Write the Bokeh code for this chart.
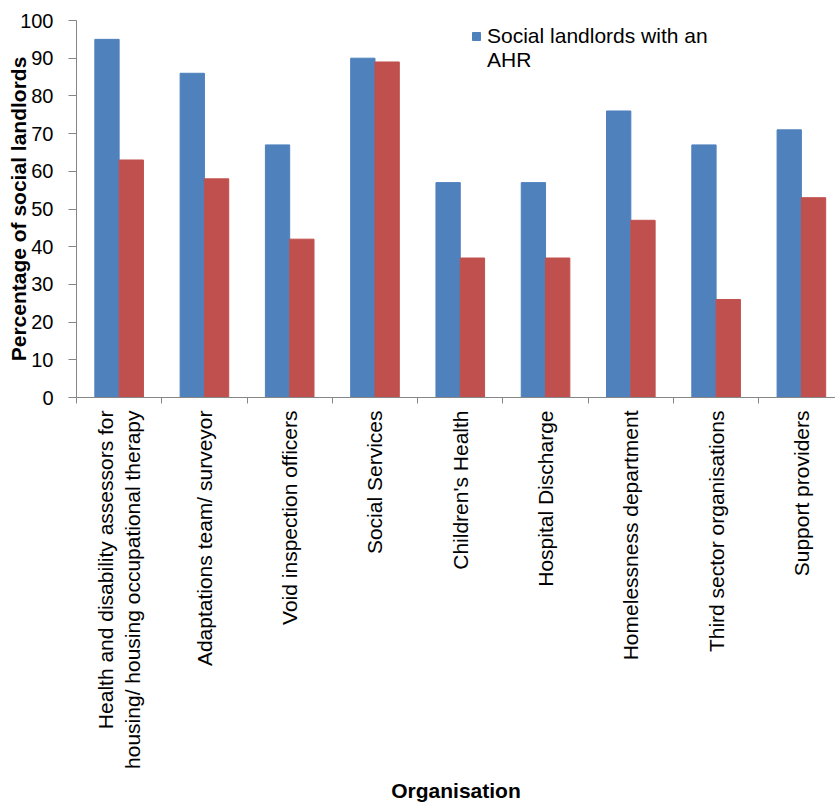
import math
from bokeh.plotting import figure
from bokeh.models import (Range1d, FixedTicker, LinearAxis, ColumnDataSource,
                          Legend, LegendItem)
from bokeh.transform import dodge
from bokeh.embed import file_html
from bokeh.resources import INLINE

categories = [
    "Health and disability assessors for\nhousing/ housing occupational therapy",
    "Adaptations team/ surveyor",
    "Void inspection officers",
    "Social Services",
    "Children's Health",
    "Hospital Discharge",
    "Homelessness department",
    "Third sector organisations",
    "Support providers",
]
with_ahr = [95, 86, 67, 90, 57, 57, 76, 67, 71]
without_ahr = [63, 58, 42, 89, 37, 37, 47, 26, 53]
y_ticks = [0, 10, 20, 30, 40, 50, 60, 70, 80, 90, 100]
legend_lines = ["Social landlords with an", "AHR"]

FONT = "Liberation Sans"
BLUE = "#4F81BD"
RED = "#C0504D"
AXIS = "#868686"

n = len(categories)
centers = [i + 0.5 for i in range(n)]
src = ColumnDataSource(dict(center=centers, a=with_ahr, b=without_ahr))

p = figure(width=835, height=804, output_backend="svg", toolbar_location=None,
           x_range=Range1d(0, 8.9), y_range=Range1d(0, 100),
           x_axis_type=None, y_axis_type=None,
           min_border_left=76, min_border_top=20, min_border_right=0,
           min_border_bottom=407)
p.outline_line_color = None
p.grid.visible = False
p.background_fill_color = "white"
p.border_fill_color = "white"

bw = 0.285
r1 = p.vbar(x=dodge("center", -bw / 2, range=p.x_range), top="a", width=bw,
            source=src, fill_color=BLUE, line_color=BLUE)
r2 = p.vbar(x=dodge("center", bw / 2, range=p.x_range), top="b", width=bw,
            source=src, fill_color=RED, line_color=RED)

# y axis
ya = LinearAxis(ticker=FixedTicker(ticks=y_ticks, minor_ticks=[]))
ya.axis_line_color = AXIS
ya.major_tick_line_color = AXIS
ya.major_tick_in = 0
ya.major_tick_out = 8
ya.major_label_standoff = 15
ya.major_label_text_font = FONT
ya.major_label_text_font_size = "20px"
ya.major_label_text_color = "black"
ya.axis_label = "Percentage of social landlords"
ya.axis_label_text_font = FONT
ya.axis_label_text_font_size = "21px"
ya.axis_label_text_font_style = "bold"
ya.axis_label_text_color = "black"
ya.axis_label_standoff = -13
p.add_layout(ya, "left")

# x axis: labels at category centres, ticks at category boundaries
xa = LinearAxis(ticker=FixedTicker(ticks=centers,
                                   minor_ticks=list(range(n + 1))))
xa.major_label_overrides = {c: lab for c, lab in zip(centers, categories)}
xa.major_label_orientation = math.pi / 2
xa.axis_line_color = AXIS
xa.major_tick_line_color = None
xa.major_tick_in = 0
xa.major_tick_out = 6
xa.minor_tick_line_color = AXIS
xa.minor_tick_in = 0
xa.minor_tick_out = 6
xa.major_label_standoff = 7
xa.major_label_text_font = FONT
xa.major_label_text_font_size = "21px"
xa.major_label_text_color = "black"
xa.axis_label = "Organisation"
xa.axis_label_text_font = FONT
xa.axis_label_text_font_size = "21px"
xa.axis_label_text_font_style = "bold"
xa.axis_label_text_color = "black"
xa.axis_label_standoff = 7
p.add_layout(xa, "below")

legend = Legend(items=[LegendItem(label=legend_lines[0], renderers=[r1]),
                       LegendItem(label=legend_lines[1], renderers=[])],
                location=(395, 325), padding=0, margin=0, spacing=-2,
                border_line_color=None, background_fill_alpha=0,
                glyph_width=10, glyph_height=10, label_standoff=6,
                label_text_font=FONT, label_text_font_size="21px",
                label_text_color="black", label_height=20)
p.add_layout(legend)

open("out.html", "w").write(file_html(p, INLINE))
